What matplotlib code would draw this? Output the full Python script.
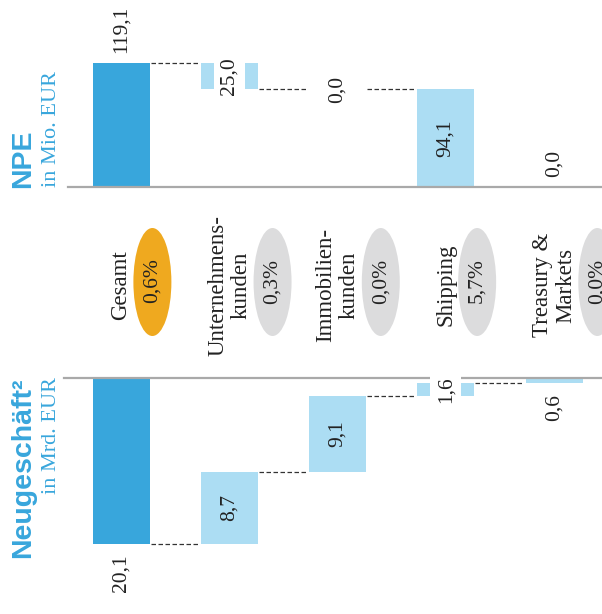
import matplotlib
matplotlib.use("Agg")
import matplotlib.pyplot as plt
from matplotlib.patches import Ellipse

# ---- data -------------------------------------------------------------
categories = ["Gesamt", "Unternehmens-\nkunden", "Immobilien-\nkunden",
              "Shipping", "Treasury &\nMarkets"]
npe_values = [119.1, 25.0, 0.0, 94.1, 0.0]
npe_labels = ["119,1", "25,0", "0,0", "94,1", "0,0"]
new_values = [20.1, 8.7, 9.1, 1.6, 0.6]
new_labels = ["20,1", "8,7", "9,1", "1,6", "0,6"]
ratio_labels = ["0,6%", "0,3%", "0,0%", "5,7%", "0,0%"]

# label placement per bar: "end" = beyond the bar, "mid" = centred,
# "box" = centred on a white box that cuts the bar
npe_place = ["end", "box", "mid", "mid", "end"]
new_place = ["end", "mid", "mid", "box", "end"]

# ---- styling ----------------------------------------------------------
W, H = 602, 614
DARK = "#38a6dc"
LIGHT = "#acddf3"
ORANGE = "#efa91f"
GREY_ELL = "#dcdcdd"
BASE = "#a9a9a9"
TXT = "#222222"
SERIF = "Liberation Serif"
SANS = "Liberation Sans"

X0, STEP = 121.0, 108.25          # pixel centre of first category, spacing
BAR_W = 57 / STEP
XLIM = (-X0 / STEP, (W - X0) / STEP)


def fig_rect(top_px, bottom_px):
    return [0, 1 - bottom_px / H, 1, (bottom_px - top_px) / H]


fig = plt.figure(figsize=(W / 100, H / 100), dpi=100)


def waterfall_spans(values):
    total = values[0]
    spans = [(0.0, total)]
    level = total
    for v in values[1:]:
        spans.append((level - v, level))
        level -= v
    return spans


def draw_waterfall(ax, values, labels, place, base_xmin, direction):
    """direction = +1 when bars grow upwards on screen, -1 when they hang."""
    spans = waterfall_spans(values)
    for i, (lo, hi) in enumerate(spans):
        ax.bar(i, hi - lo, bottom=lo, width=BAR_W,
               color=DARK if i == 0 else LIGHT, zorder=2, linewidth=0)
    # dashed connectors between neighbouring bars
    for i in range(len(spans) - 1):
        level = spans[0][1] if i == 0 else spans[i][0]
        if level <= 0:
            continue
        ax.plot([i + BAR_W / 2 + 0.01, i + 1 - BAR_W / 2 - 0.015],
                [level, level], color="#333333", lw=0.9,
                linestyle=(0, (3.6, 2.0)), zorder=1)
    ax.axhline(0, xmin=base_xmin / W, xmax=1, color=BASE, lw=1.6, zorder=3)
    # value labels
    for i, (lo, hi) in enumerate(spans):
        if place[i] == "end":
            ax.annotate(labels[i], (i, hi), xytext=(0, 7.5 * direction),
                        textcoords="offset points", rotation=90,
                        ha="center", va="bottom" if direction > 0 else "top",
                        fontsize=15.5, family=SERIF, color=TXT, zorder=5)
        else:
            kw = {}
            if place[i] == "box":
                kw["bbox"] = dict(boxstyle="square,pad=0.28", fc="white",
                                  ec="none")
            ax.text(i, (lo + hi) / 2, labels[i], rotation=90,
                    ha="center", va="center", fontsize=15.5, family=SERIF,
                    color=TXT, zorder=5, **kw)
    ax.set_xlim(*XLIM)
    ax.axis("off")


# ---- NPE panel (upper) ------------------------------------------------
ax_top = fig.add_axes(fig_rect(0, 200))
scale_top = 124 / 119.1
ax_top.set_ylim(-(200 - 187) / scale_top, 187 / scale_top)
draw_waterfall(ax_top, npe_values, npe_labels, npe_place, 68, +1)

# ---- Neugeschäft panel (lower, bars hang from the baseline) ------------
ax_bot = fig.add_axes(fig_rect(370, 614))
scale_bot = 166 / 20.1
ax_bot.set_ylim((614 - 377.5) / scale_bot, -(377.5 - 370) / scale_bot)
draw_waterfall(ax_bot, new_values, new_labels, new_place, 64, -1)

# ---- category band with ratio ellipses --------------------------------
ax_mid = fig.add_axes(fig_rect(190, 370))
ax_mid.set_xlim(*XLIM)
ax_mid.set_ylim(0, 180)
ax_mid.axis("off")
for i, (cat, pct) in enumerate(zip(categories, ratio_labels)):
    ax_mid.text(i, 370 - 285, cat, rotation=90, ha="center", va="center",
                multialignment="center", fontsize=16.5, family=SERIF,
                color=TXT, linespacing=1.15)
    off = 0.40 if "\n" in cat else 0.29
    ax_mid.add_patch(Ellipse((i + off, 370 - 282), 38 / STEP, 108,
                             facecolor=ORANGE if i == 0 else GREY_ELL,
                             edgecolor="none"))
    ax_mid.text(i + off, 370 - 281, pct, rotation=90, ha="center",
                va="center", fontsize=15.5, family=SERIF, color=TXT)


# ---- panel titles -----------------------------------------------------
def ftext(xp, yp, s, **kw):
    fig.text(xp / W, 1 - yp / H, s, rotation=90, ha="center", **kw)


ftext(23, 188, "NPE", va="bottom", fontsize=20.5, family=SANS,
      weight="bold", color=DARK)
ftext(52, 187, "in Mio. EUR", va="bottom", fontsize=16, family=SERIF,
      color=DARK)
ftext(23, 378, "Neugeschäft²", va="top", fontsize=20.5, family=SANS,
      weight="bold", color=DARK)
ftext(52, 377, "in Mrd. EUR", va="top", fontsize=16, family=SERIF,
      color=DARK)

fig.savefig("out.png", dpi=100)
